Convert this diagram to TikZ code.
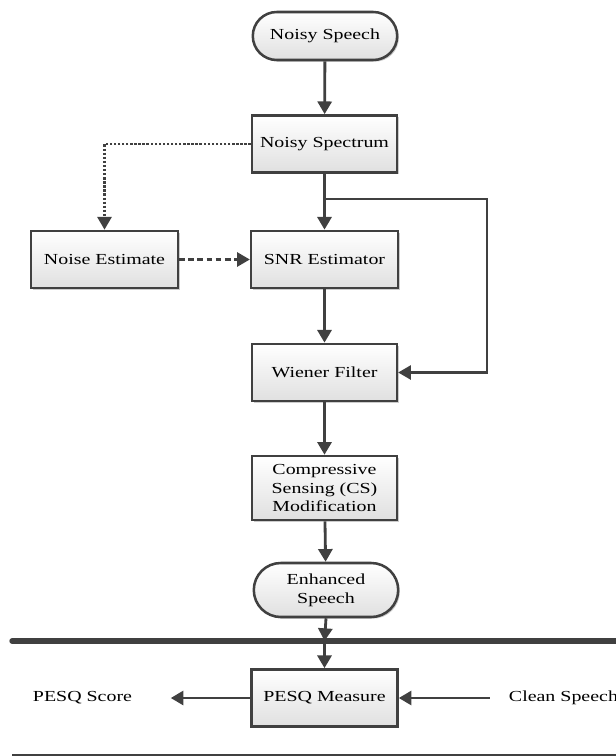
\documentclass[tikz,border=0pt]{standalone}
\usepackage{fontspec}
\setmainfont[FakeStretch=1.3]{Liberation Serif}
\usetikzlibrary{arrows.meta,positioning,shapes.misc,shadows}
\definecolor{flowgray}{RGB}{64,64,64}
\definecolor{flowshade}{RGB}{224,224,224}

\begin{document}
\begin{tikzpicture}[x=0.025cm, y=-0.025cm,
  every node/.style={font=\fontsize{10.9pt}{13.3pt}\selectfont},
  procbox/.style={draw=flowgray, line width=1.8pt, top color=white, bottom color=flowshade,
    minimum width=3.62cm, minimum height=1.43cm, align=center, inner sep=2pt,
    drop shadow={shadow xshift=1.2pt, shadow yshift=-1.2pt, fill=black!40, opacity=0.5}},
  termbox/.style={procbox, rounded rectangle, minimum width=3.75cm, minimum height=1.2cm},
  flow/.style={-{Triangle[length=9pt,width=10pt]}, flowgray, line width=2pt},
  noiseflow/.style={flow, line width=1.7pt, dash pattern=on 1.7pt off 1.2pt},
  estflow/.style={flow, line width=1.7pt, dash pattern=on 4pt off 2.5pt}]

\useasboundingbox (0,0) rectangle (616,756);

% Input and spectrum
\node[termbox] (noisy) at (325,36) {Noisy Speech};
\node[procbox] (spectrum) at (324.5,144) {Noisy Spectrum};

% Estimation
\node[procbox, minimum width=3.67cm] (noise) at (104.5,259.5) {Noise Estimate};
\node[procbox, minimum width=3.67cm] (snr) at (324.5,259.5) {SNR Estimator};

% Filtering
\node[procbox] (wiener) at (324.5,372.5) {Wiener Filter};
\node[procbox, minimum height=1.6cm] (cs) at (324.5,488)
  {Compressive\\Sensing (CS)\\Modification};
\node[termbox, minimum height=1.35cm] (enhanced) at (326,590) {Enhanced\\Speech};

% Evaluation
\node[procbox, minimum width=3.65cm] (pesq) at (324.5,698) {PESQ Measure};
\node[anchor=east] (score) at (137,698) {PESQ Score};
\node[anchor=west] (clean) at (504,698) {Clean Speech};

\coordinate (split) at (324.5,199);
\coordinate (bend) at (487,199);
\coordinate (tap) at (324.5,641);
\coordinate (sepleft) at (12,641);
\coordinate (sepright) at (620,641);

% Arrows
\draw[flow] (noisy) -- (spectrum);
\draw[flow] (spectrum) -- (snr);
\draw[flow, line width=1.6pt] (split) -- (bend) |- (wiener.east);
\draw[noiseflow] (spectrum.west) -| (noise.north);
\draw[estflow] (noise.east) -- (snr.west);
\draw[flow] (snr) -- (wiener);
\draw[flow] (wiener) -- (cs);
\draw[flow] (cs) -- (enhanced);
\draw[flow] (enhanced.south) -- (tap);
\draw[flow] (tap) -- (pesq.north);
\draw[flow] (pesq.west) -- ([xshift=24pt]score.east);
\draw[flow] ([xshift=-10pt]clean.west) -- (pesq.east);

% Separators
\draw[flowgray, line width=3.8pt, line cap=round] (sepleft) -- (sepright);
\draw[flowgray, line width=1.5pt] (12,755) -- (620,755);

\end{tikzpicture}
\end{document}
